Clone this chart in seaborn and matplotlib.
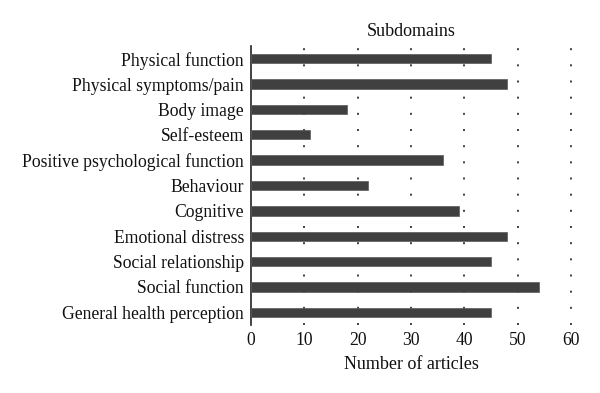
import matplotlib
matplotlib.use('Agg')
import matplotlib.pyplot as plt
import seaborn as sns
import pandas as pd

# Dados
subdominios = ['Physical function', 'Physical symptoms/pain', 'Body image', 'Self-esteem',
               'Positive psychological function', 'Behaviour', 'Cognitive',
               'Emotional distress', 'Social relationship', 'Social function',
               'General health perception']
artigos = [45, 48, 18, 11, 36, 22, 39, 48, 45, 54, 45]
ticks_x = [0, 10, 20, 30, 40, 50, 60]

df = pd.DataFrame({'Subdomain': subdominios, 'Articles': artigos})

sns.set_style('white')
plt.rcParams['font.family'] = ['Liberation Serif', 'DejaVu Serif']

fig = plt.figure(figsize=(6, 3.93), dpi=100)
ax = fig.add_axes([251 / 600, 1 - 325 / 393, 320 / 600, 279 / 393])

sns.barplot(x='Articles', y='Subdomain', data=df, color='#404040', width=0.37,
            saturation=1, edgecolor='#5a5a5a', linewidth=0.5, ax=ax, zorder=3)

ax.set_xlim(0, 60)
ax.set_xticks(ticks_x)
for t in ticks_x[1:]:
    ax.axvline(t, color='#222222', linestyle=(0, (1.2, 8.5)), linewidth=1.2,
               zorder=1, clip_on=False)

for s in ['top', 'right', 'bottom']:
    ax.spines[s].set_visible(False)
ax.spines['left'].set_color('#222222')
ax.spines['left'].set_linewidth(1.2)
ax.tick_params(axis='both', length=0, labelsize=12.7, colors='#111111')
ax.tick_params(axis='x', pad=5)
ax.tick_params(axis='y', pad=5)

ax.set_ylabel('')
ax.set_xlabel('Number of articles', fontsize=13, color='#111111', labelpad=5)
ax.set_title('Subdomains', fontsize=13, color='#111111', pad=7)

plt.savefig('out.png', dpi=100)
